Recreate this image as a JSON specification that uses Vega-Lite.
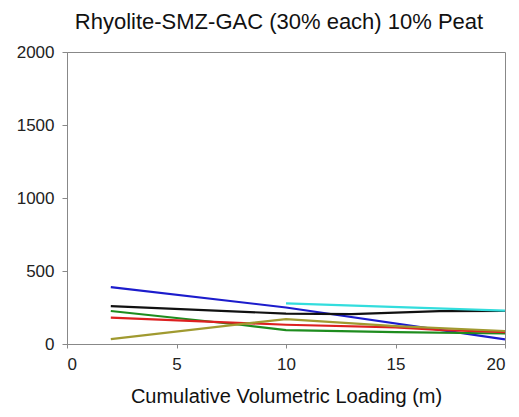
{
  "$schema": "https://vega.github.io/schema/vega-lite/v6.json",
  "autosize": "none",
  "width": 438,
  "height": 292,
  "padding": {"left": 67, "top": 52, "right": 14, "bottom": 73},
  "background": "white",
  "title": {"text": "Rhyolite-SMZ-GAC (30% each) 10% Peat", "font": "Liberation Sans", "fontSize": 22, "fontWeight": "normal", "color": "#111111", "anchor": "middle", "frame": "group", "baseline": "alphabetic", "offset": 22, "dx": -7, "dy": 30},
  "data": {"values": [
    {"x": 2, "y": 390, "s": "A"}, {"x": 10, "y": 250, "s": "A"}, {"x": 20, "y": 32, "s": "A"},
    {"x": 2, "y": 260, "s": "B"}, {"x": 10, "y": 208, "s": "B"}, {"x": 13, "y": 205, "s": "B"}, {"x": 17, "y": 225, "s": "B"}, {"x": 20, "y": 226, "s": "B"},
    {"x": 10, "y": 278, "s": "C"}, {"x": 20, "y": 228, "s": "C"},
    {"x": 2, "y": 226, "s": "D"}, {"x": 8, "y": 130, "s": "D"}, {"x": 10, "y": 95, "s": "D"}, {"x": 15, "y": 82, "s": "D"}, {"x": 20, "y": 72, "s": "D"},
    {"x": 2, "y": 180, "s": "E"}, {"x": 10, "y": 132, "s": "E"}, {"x": 15, "y": 114, "s": "E"}, {"x": 17, "y": 96, "s": "E"}, {"x": 20, "y": 82, "s": "E"},
    {"x": 2, "y": 34, "s": "F"}, {"x": 10, "y": 171, "s": "F"}, {"x": 15, "y": 123, "s": "F"}, {"x": 20, "y": 89, "s": "F"}
  ]},
  "mark": {"type": "line", "strokeWidth": 2.2, "clip": true},
  "encoding": {
    "x": {"field": "x", "type": "quantitative", "scale": {"domain": [0, 20], "nice": false},
      "axis": {"values": [0, 5, 10, 15, 20], "format": "d", "title": "Cumulative Volumetric Loading (m)", "grid": false, "domainColor": "#888888", "tickColor": "#888888", "tickSize": 4, "labelFont": "Liberation Sans", "labelFontSize": 17, "labelColor": "#222222", "labelPadding": 8, "titleFont": "Liberation Sans", "titleFontSize": 20, "titleFontWeight": "normal", "titleColor": "#111111", "titlePadding": 14}},
    "y": {"field": "y", "type": "quantitative", "scale": {"domain": [0, 2000], "nice": false},
      "axis": {"values": [0, 500, 1000, 1500, 2000], "format": "d", "title": null, "grid": false, "domainColor": "#888888", "tickColor": "#888888", "tickSize": 5, "labelFont": "Liberation Sans", "labelFontSize": 17, "labelColor": "#222222", "labelPadding": 8}},
    "color": {"field": "s", "type": "nominal", "legend": null,
      "scale": {"domain": ["A", "B", "C", "D", "E", "F"], "range": ["#1c1ccc", "#111111", "#33dddd", "#1e8c1e", "#dd2020", "#a09a30"]}},
    "order": {"field": "x", "type": "quantitative"}
  },
  "config": {"view": {"stroke": "#888888", "strokeWidth": 1}}
}
